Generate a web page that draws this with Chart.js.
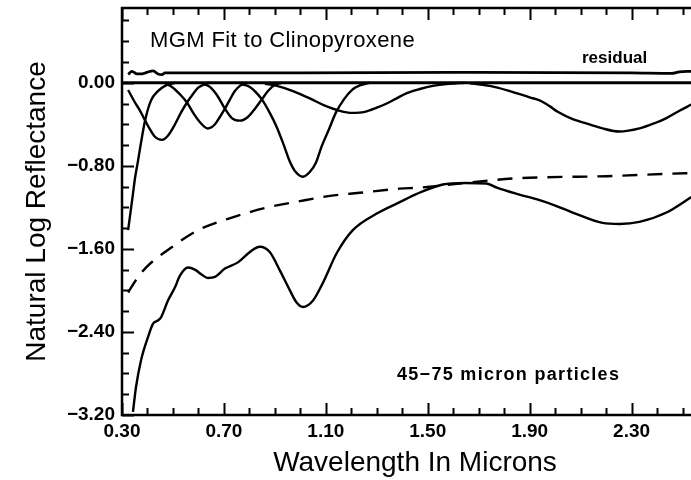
<!DOCTYPE html>
<html>
<head>
<meta charset="utf-8">
<script src="https://cdn.jsdelivr.net/npm/chart.js@4.4.1/dist/chart.umd.min.js"></script>
<style>
  html, body { margin: 0; padding: 0; background: #fff; overflow: hidden; }
  #wrap { width: 710px; height: 480px; position: relative; }
</style>
</head>
<body>
<div id="wrap"><canvas id="chart"></canvas></div>
<script>
// tick labels
const wavelengthTicks = [0.3, 0.7, 1.1, 1.5, 1.9, 2.3];
const reflectanceTicks = [0, -0.8, -1.6, -2.4, -3.2];

// measured spectrum (solid, bottom)
const spectrumX = [0.343, 0.355, 0.375, 0.402, 0.422, 0.441, 0.453, 0.480, 0.508, 0.527, 0.559, 0.586, 0.614, 0.637, 0.665, 0.704, 0.755, 0.802, 0.841, 0.880, 0.920, 0.959, 0.986, 1.010, 1.049, 1.088, 1.143, 1.206, 1.300, 1.390, 1.457, 1.559, 1.645, 1.731, 1.771, 1.849, 1.939, 1.998, 2.069, 2.186, 2.253, 2.331, 2.437, 2.535];
const spectrumY = [-3.17, -2.93, -2.67, -2.45, -2.32, -2.29, -2.26, -2.10, -1.97, -1.86, -1.78, -1.80, -1.85, -1.88, -1.87, -1.79, -1.73, -1.63, -1.58, -1.63, -1.81, -2.00, -2.12, -2.16, -2.10, -1.93, -1.64, -1.42, -1.26, -1.15, -1.07, -0.98, -0.965, -0.97, -1.01, -1.07, -1.13, -1.18, -1.25, -1.35, -1.36, -1.34, -1.25, -1.10];

// continuum (dashed)
const continuumX = [0.324, 0.355, 0.394, 0.492, 0.598, 0.716, 0.873, 0.998, 1.116, 1.233, 1.390, 1.469, 1.625, 1.849, 1.967, 2.202, 2.461, 2.535];
const continuumY = [-2.02, -1.90, -1.78, -1.59, -1.42, -1.31, -1.20, -1.14, -1.09, -1.06, -1.02, -1.01, -0.97, -0.92, -0.91, -0.90, -0.875, -0.87];

// residual
const residualX = [0.324, 0.339, 0.359, 0.378, 0.398, 0.422, 0.441, 0.457, 0.469, 0.488, 1.0, 1.6, 2.3, 2.457, 2.488, 2.535];
const residualY = [0.08, 0.11, 0.085, 0.085, 0.10, 0.115, 0.085, 0.078, 0.095, 0.095, 0.095, 0.10, 0.095, 0.09, 0.105, 0.11];

// zero line
const zeroX = [0.3, 2.6];
const zeroY = [0, 0];

// individual gaussian bands
const uvBandX = [0.324, 0.343, 0.351, 0.363, 0.371, 0.390, 0.414, 0.441, 0.469, 0.508];
const uvBandY = [-1.42, -1.07, -0.92, -0.75, -0.63, -0.37, -0.17, -0.08, -0.03, 0];

const bandAX = [0.324, 0.351, 0.371, 0.390, 0.410, 0.429, 0.457, 0.480, 0.508, 0.531, 0.555, 0.578, 0.598, 0.618, 0.645];
const bandAY = [-0.07, -0.19, -0.27, -0.36, -0.45, -0.52, -0.55, -0.51, -0.40, -0.29, -0.19, -0.11, -0.05, -0.02, 0];

const bandBX = [0.469, 0.496, 0.527, 0.555, 0.582, 0.606, 0.637, 0.665, 0.684, 0.704, 0.724, 0.743, 0.763, 0.790];
const bandBY = [-0.01, -0.04, -0.11, -0.19, -0.30, -0.38, -0.44, -0.40, -0.33, -0.25, -0.16, -0.08, -0.03, 0];

const bandCX = [0.618, 0.645, 0.673, 0.704, 0.731, 0.763, 0.794, 0.822, 0.849, 0.873, 0.900, 0.927];
const bandCY = [-0.01, -0.04, -0.12, -0.25, -0.34, -0.365, -0.33, -0.25, -0.16, -0.08, -0.02, 0];

const bandDX = [0.763, 0.802, 0.825, 0.849, 0.880, 0.908, 0.935, 0.959, 0.982, 1.010, 1.037, 1.061, 1.084, 1.112, 1.139, 1.171, 1.202, 1.233, 1.273];
const bandDY = [-0.01, -0.04, -0.09, -0.16, -0.29, -0.43, -0.60, -0.76, -0.86, -0.905, -0.86, -0.77, -0.61, -0.45, -0.29, -0.16, -0.07, -0.025, 0];

const bandEX = [0.861, 0.908, 0.971, 1.037, 1.096, 1.155, 1.202, 1.253, 1.300, 1.339, 1.378, 1.418, 1.469, 1.520, 1.586, 1.645];
const bandEY = [-0.01, -0.03, -0.08, -0.15, -0.22, -0.27, -0.29, -0.28, -0.24, -0.20, -0.15, -0.10, -0.06, -0.03, -0.01, 0];

const bandFX = [1.665, 1.743, 1.822, 1.900, 1.939, 1.978, 2.010, 2.069, 2.135, 2.186, 2.253, 2.331, 2.390, 2.437, 2.488, 2.535];
const bandFY = [-0.005, -0.03, -0.08, -0.14, -0.17, -0.225, -0.28, -0.35, -0.40, -0.44, -0.47, -0.44, -0.39, -0.34, -0.27, -0.21];

const FONT = '"Liberation Sans", Arial, Helvetica, sans-serif';

const toPoints = (xs, ys) => xs.map((x, i) => ({ x, y: ys[i] }));

const line = (label, xs, ys, extra = {}) => ({
  label,
  data: toPoints(xs, ys),
  borderColor: "#000",
  borderWidth: 2.4,
  pointRadius: 0,
  fill: false,
  cubicInterpolationMode: "monotone",
  ...extra,
});

const frameAndNotes = {
  id: "frameAndNotes",
  afterDraw(chart) {
    const { ctx, chartArea: a, scales } = chart;
    const x = scales.x;
    const y = scales.y;
    ctx.save();
    ctx.strokeStyle = "#000";
    ctx.lineWidth = 2.5;
    ctx.strokeRect(a.left, a.top, a.right - a.left, a.bottom - a.top);

    // inward tick marks, minor 0.1 / major 0.4 on x
    ctx.lineWidth = 2;
    ctx.beginPath();
    for (let i = 3; i <= 25; i++) {
      const px = Math.round(x.getPixelForValue(i / 10)) + 0.5;
      const len = (i - 3) % 4 === 0 ? 12 : 7;
      ctx.moveTo(px, a.bottom);
      ctx.lineTo(px, a.bottom - len);
      ctx.moveTo(px, a.top);
      ctx.lineTo(px, a.top + len);
    }
    // minor 0.2 / major 0.8 on y
    for (let i = -16; i <= 3; i++) {
      const py = Math.round(y.getPixelForValue(i / 5)) + 0.5;
      const len = i % 4 === 0 ? 12 : 7;
      ctx.moveTo(a.left, py);
      ctx.lineTo(a.left + len, py);
      ctx.moveTo(a.right, py);
      ctx.lineTo(a.right - len, py);
    }
    ctx.stroke();

    ctx.fillStyle = "#000";
    ctx.textBaseline = "middle";
    ctx.textAlign = "left";
    ctx.font = "22px " + FONT;
    ctx.letterSpacing = "0.4px";
    ctx.fillText("MGM Fit to Clinopyroxene", 150, 41);
    ctx.font = "bold 17px " + FONT;
    ctx.letterSpacing = "0px";
    ctx.fillText("residual", 582, 58);
    ctx.font = "bold 18px " + FONT;
    ctx.letterSpacing = "1.3px";
    ctx.fillText("45\u221275 micron particles", 397, 375);
    ctx.restore();
  },
};

new Chart(document.getElementById("chart"), {
  type: "line",
  data: {
    datasets: [
      line("zero", zeroX, zeroY, { borderWidth: 2.8 }),
      line("residual", residualX, residualY, { borderWidth: 2.8 }),
      line("uv band", uvBandX, uvBandY),
      line("band A", bandAX, bandAY),
      line("band B", bandBX, bandBY),
      line("band C", bandCX, bandCY),
      line("band D", bandDX, bandDY),
      line("band E", bandEX, bandEY),
      line("band F", bandFX, bandFY),
      line("continuum", continuumX, continuumY, { borderDash: [15, 10] }),
      line("spectrum", spectrumX, spectrumY),
    ],
  },
  options: {
    responsive: true,
    maintainAspectRatio: false,
    animation: false,
    layout: { padding: { top: 8, right: 2, left: 0, bottom: 0 } },
    plugins: { legend: { display: false }, tooltip: { enabled: false } },
    scales: {
      x: {
        type: "linear",
        min: 0.3,
        max: 2.6,
        grid: { display: false, drawTicks: false },
        border: { display: false },
        afterBuildTicks: (scale) => {
          scale.ticks = wavelengthTicks.map((value) => ({ value }));
        },
        afterFit: (scale) => {
          scale.height = 65;
          scale.paddingLeft = 0;
          scale.paddingRight = 0;
        },
        ticks: {
          padding: 5,
          color: "#000",
          maxRotation: 0,
          font: { family: FONT, size: 19, weight: "bold" },
          callback: (value) => Number(value).toFixed(2),
        },
        title: {
          display: true,
          text: "Wavelength In Microns",
          color: "#000",
          font: { family: FONT, size: 28 },
          padding: { top: 0, bottom: 0 },
        },
      },
      y: {
        type: "linear",
        min: -3.2,
        max: 0.72,
        grid: { display: false, drawTicks: false },
        border: { display: false },
        afterBuildTicks: (scale) => {
          scale.ticks = reflectanceTicks.map((value) => ({ value }));
        },
        afterFit: (scale) => {
          scale.width = 122;
          scale.paddingTop = 0;
          scale.paddingBottom = 0;
        },
        ticks: {
          padding: 7,
          color: "#000",
          font: { family: FONT, size: 19, weight: "bold" },
          callback: (value) => {
            const s = Number(value).toFixed(2);
            return s.startsWith("-") ? "\u2212" + s.slice(1) : s;
          },
        },
        title: {
          display: true,
          text: "Natural Log Reflectance",
          color: "#000",
          font: { family: FONT, size: 28 },
          padding: { top: 20, bottom: 0 },
        },
      },
    },
  },
  plugins: [frameAndNotes],
});
</script>
</body>
</html>
